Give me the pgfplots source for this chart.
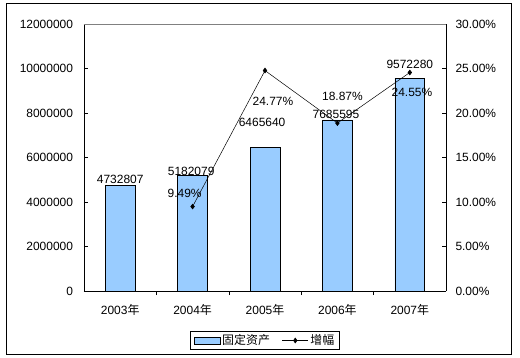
\documentclass[border=0pt]{standalone}
\usepackage{pgfplots}
\pgfplotsset{compat=1.18}
\usepackage{fontspec}
\setmainfont{Liberation Sans}
\newfontfamily\cjk{Noto Sans CJK SC}
\definecolor{barblue}{HTML}{99CCFF}
\newcommand{\fs}{\fontsize{12}{14}\selectfont}
\begin{document}
\begin{tikzpicture}
\useasboundingbox (-84bp,-67bp) rectangle (436bp,291bp);
\draw[line width=1.2pt] (-77.5bp,-63.3bp) rectangle (427.7bp,287.7bp);
\begin{axis}[
  at={(0,0)}, anchor=south west,
  scale only axis, width=362bp, height=267bp,
  xmin=-0.5, xmax=4.5, ymin=0, ymax=12000000,
  axis x line*=bottom, axis y line*=left,
  axis line style={-, black, line width=0.8pt},
  xtick={0,1,2,3,4},
  xticklabels={2003{\cjk 年},2004{\cjk 年},2005{\cjk 年},2006{\cjk 年},2007{\cjk 年}},
  major x tick style={draw=none},
  minor xtick={0.5,1.5,2.5,3.5},
  minor x tick style={black, line width=0.6pt},
  xtick align=inside,
  minor tick length=4bp,
  ytick={0,2000000,4000000,6000000,8000000,10000000,12000000},
  yticklabels={0,2000000,4000000,6000000,8000000,10000000,12000000},
  scaled y ticks=false,
  y tick style={black, line width=0.6pt},
  ytick align=inside,
  major tick length=4bp,
  tick label style={font=\fs, black},
  yticklabel style={xshift=-7.5bp},
  xticklabel style={yshift=-6bp},
  ybar, bar width=0.414,
]
\addplot[fill=barblue, draw=black, line width=0.6pt] coordinates {
  (0,4732807) (1,5182079) (2,6465640) (3,7685595) (4,9572280)};
\node[font=\fs] at (axis cs:0,5030000) {4732807};
\node[font=\fs] at (axis cs:0.98,5390000) {5182079};
\node[font=\fs] at (axis cs:1.96,7600000) {6465640};
\node[font=\fs] at (axis cs:2.98,7955000) {7685595};
\node[font=\fs] at (axis cs:4.00,10200000) {9572280};
\end{axis}
\begin{axis}[
  at={(0,0)}, anchor=south west,
  scale only axis, width=362bp, height=267bp,
  xmin=-0.5, xmax=4.5, ymin=0, ymax=30,
  axis x line*=top, axis y line*=right,
  x axis line style={-, gray, line width=0.8pt},
  y axis line style={-, black, line width=0.8pt},
  xtick=\empty,
  ytick={0,5,10,15,20,25,30},
  yticklabels={0.00\%,5.00\%,10.00\%,15.00\%,20.00\%,25.00\%,30.00\%},
  y tick style={black, line width=0.6pt},
  ytick align=inside,
  major tick length=4bp,
  tick label style={font=\fs, black},
  yticklabel style={xshift=6bp},
  legend columns=2,
  legend style={at={(0.5,-0.1854)}, anchor=center, draw=black, line width=0.8pt,
    font=\fs, inner xsep=3bp, inner ysep=1.5bp,
    /tikz/every even column/.append style={column sep=10bp}},
]
\addlegendimage{legend image code/.code={\draw[fill=barblue, draw=black, line width=0.6pt] (0bp,-3.5bp) rectangle (26bp,3.5bp);}}
\addlegendentry{\cjk 固定资产}
\addplot[black, line width=0.5pt, mark=diamond*, mark size=2.5pt, mark options={solid, fill=black},
  legend image code/.code={\draw[black, line width=0.5pt] (0bp,0bp) -- (26bp,0bp); \fill[black] (13bp,0bp) +(0,2.5pt) -- +(1.8pt,0) -- +(0,-2.5pt) -- +(-1.8pt,0) -- cycle;}]
  coordinates {(1,9.49) (2,24.77) (3,18.87) (4,24.55)};
\addlegendentry{\cjk 增幅}
\node[font=\fs] at (axis cs:0.89,11.01) {9.49\%};
\node[font=\fs] at (axis cs:2.11,21.35) {24.77\%};
\node[font=\fs] at (axis cs:3.07,21.91) {18.87\%};
\node[font=\fs] at (axis cs:4.03,22.36) {24.55\%};
\end{axis}
\end{tikzpicture}
\end{document}
